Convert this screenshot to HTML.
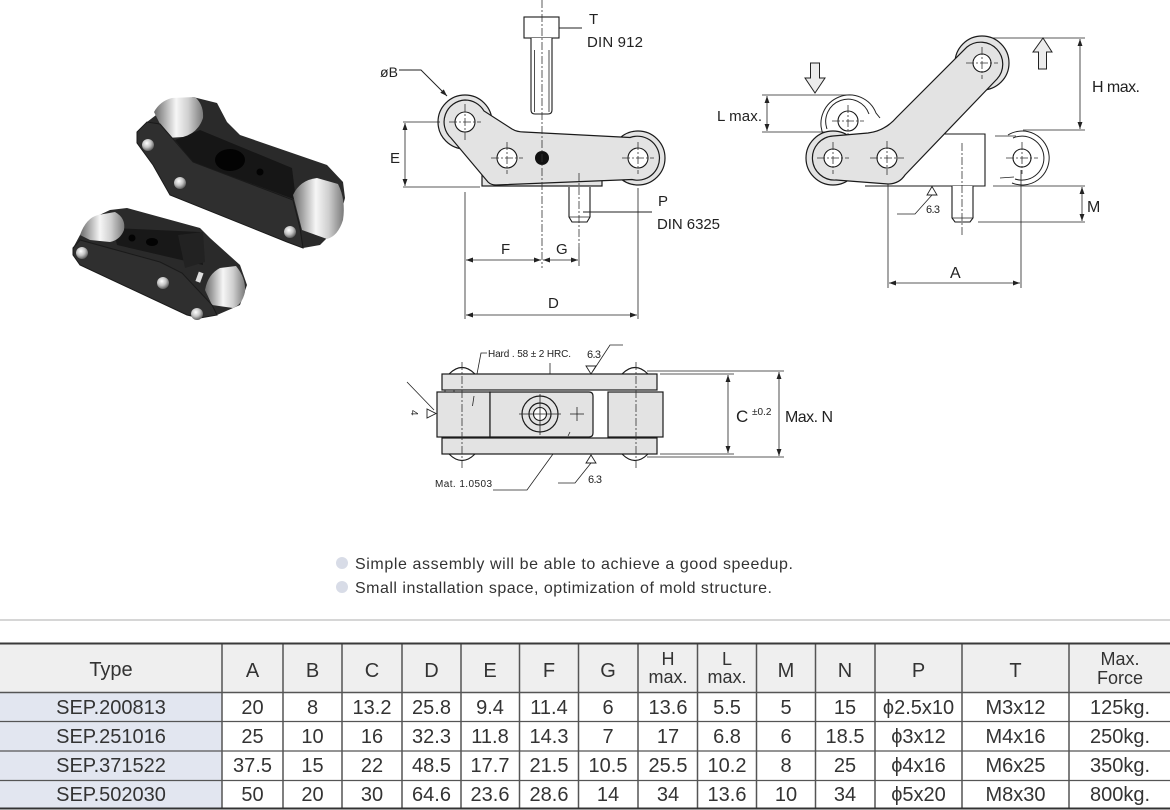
<!DOCTYPE html>
<html><head><meta charset="utf-8"><style>
html,body{margin:0;padding:0;background:#fff;}
svg{display:block;}
text{font-family:"Liberation Sans","DejaVu Sans",sans-serif;fill:#222;}
.ln{stroke:#222;stroke-width:1;fill:none;}
.th{stroke:#222;stroke-width:0.8;fill:none;}
.cl{stroke:#333;stroke-width:0.8;fill:none;stroke-dasharray:8 2 2 2;}
.pl{fill:#e3e3e3;stroke:#1a1a1a;stroke-width:1.2;}
.wh{fill:#fff;stroke:#1a1a1a;stroke-width:1.1;}
.tb{font-size:20px;fill:#333;text-anchor:middle;}
.th2{font-size:18px;fill:#333;text-anchor:middle;}
</style></head><body>
<svg width="1170" height="810" viewBox="0 0 1170 810" xmlns="http://www.w3.org/2000/svg">
<defs>
<marker id="ar" viewBox="0 0 10 10" refX="10" refY="5" markerWidth="8" markerHeight="7" orient="auto-start-reverse" markerUnits="userSpaceOnUse"><path d="M0,1.5 L10,5 L0,8.5 z" fill="#222"/></marker>
<linearGradient id="sil" x1="0" y1="0" x2="1" y2="0"><stop offset="0" stop-color="#6a6a6a"/><stop offset=".25" stop-color="#b8b8b8"/><stop offset=".45" stop-color="#f6f6f6"/><stop offset=".7" stop-color="#cfcfcf"/><stop offset="1" stop-color="#7a7a7a"/></linearGradient>
<radialGradient id="riv" cx=".4" cy=".35" r=".7"><stop offset="0" stop-color="#fff"/><stop offset=".5" stop-color="#c4c4c4"/><stop offset="1" stop-color="#505050"/></radialGradient>
</defs>

<!-- ================= PHOTO ================= -->
<g>
<!-- upper link -->
<path d="M193,97 L217,103 L227,122 L240,135 L327,165 L343,182 L345,198 L337,228 L320,245 L303,248 L287,242 L170,195 L153,165 L137,143 L137,132 L147,122 L160,112 Z" fill="#2a2a2a"/>
<path d="M200,130 L292,168 L296,200 L193,162 L175,140 Z" fill="#161616"/>
<ellipse cx="230" cy="160" rx="15" ry="11" fill="#030303"/>
<circle cx="260" cy="172" r="3.5" fill="#030303"/>
<path d="M154,112 Q160,101 172,98 L195,97 Q204,105 203,118 Q198,133 183,137 L167,138 Z" fill="url(#sil)"/>
<path d="M293,195 Q300,180 317,178 L338,184 Q346,200 343,220 Q338,236 327,239 L302,230 Z" fill="url(#sil)"/>
<path d="M137,132 L147,122 L160,124 L193,162 L293,200 L300,228 L303,248 L287,242 L170,195 L153,165 L137,143 Z" fill="#2f2f2f" stroke="#1a1a1a" stroke-width="1"/>
<circle cx="148" cy="145" r="6" fill="url(#riv)"/>
<circle cx="180" cy="183" r="6" fill="url(#riv)"/>
<circle cx="290" cy="232" r="6" fill="url(#riv)"/>
<!-- lower link -->
<path d="M73,248 L80,235 L93,218 L110,210 L127,208 L200,228 L210,238 L240,265 L247,285 L240,305 L217,315 L200,318 L187,315 L80,265 L73,255 Z" fill="#2a2a2a"/>
<path d="M113,228 L200,232 L203,265 L117,245 Z" fill="#181818"/>
<circle cx="132" cy="238" r="3.5" fill="#030303"/>
<ellipse cx="152" cy="242" rx="6" ry="4" fill="#030303"/>
<path d="M178,235 L203,232 L205,262 L185,268 Z" fill="#222"/>
<rect x="197" y="272" width="5" height="10" fill="#ddd" transform="rotate(20 199 277)"/>
<path d="M80,235 Q86,218 98,215 L115,212 Q126,218 124,230 Q120,240 110,242 L90,240 Z" fill="url(#sil)"/>
<path d="M205,290 Q208,274 220,268 L236,266 Q246,278 245,292 Q242,305 233,308 L212,305 Z" fill="url(#sil)"/>
<path d="M73,248 L80,240 L160,262 L182,273 L212,305 L217,315 L200,318 L187,315 L80,265 L73,255 Z" fill="#2f2f2f" stroke="#1a1a1a" stroke-width="1"/>
<circle cx="82" cy="253" r="6" fill="url(#riv)"/>
<circle cx="163" cy="283" r="6" fill="url(#riv)"/>
<circle cx="197" cy="314" r="6" fill="url(#riv)"/>
</g>

<!-- ================= MIDDLE DRAWING ================= -->
<rect x="524" y="17" width="35" height="21" class="wh"/>
<path d="M531,38 V110 Q531,114 535,114 H548 Q552,114 552,110 V38" class="wh"/>
<line x1="534.5" y1="50" x2="534.5" y2="112" class="th"/>
<line x1="549" y1="50" x2="549" y2="112" class="th"/>
<line x1="559" y1="28" x2="582" y2="28" class="ln"/>
<text x="589" y="24" font-size="15">T</text>
<text x="587" y="47" font-size="15" textLength="56">DIN 912</text>
<text x="380" y="77" font-size="14" textLength="18">øB</text>
<polyline points="399,70 421,70 447,96" class="ln" marker-end="url(#ar)"/>
<circle cx="465" cy="122" r="27" class="pl"/>
<circle cx="638" cy="158" r="27" class="pl"/>
<rect x="482" y="172" width="120" height="14" class="pl"/>
<path d="M465,100 A22,22 0 0 1 484,111 L512,129 Q517,132 524,132 L630,137.5 A22,22 0 1 1 632,179.5 L496,185 Q491,185 488,182 L451,138 A22,22 0 0 1 465,100 Z" class="pl"/>
<circle cx="465" cy="122" r="10" class="wh"/>
<circle cx="507" cy="158" r="10" class="wh"/>
<circle cx="638" cy="158" r="10" class="wh"/>
<circle cx="542" cy="158" r="7" fill="#111"/>
<line x1="449" y1="122" x2="481" y2="122" class="cl"/>
<line x1="465" y1="104" x2="465" y2="140" class="cl"/>
<line x1="491" y1="158" x2="523" y2="158" class="cl"/>
<line x1="507" y1="142" x2="507" y2="174" class="cl"/>
<line x1="622" y1="158" x2="654" y2="158" class="cl"/>
<line x1="638" y1="142" x2="638" y2="174" class="cl"/>
<line x1="542" y1="0" x2="542" y2="268" class="cl"/>
<path d="M569,187 V217 L572,222 H587 L590,217 V187" class="wh"/>
<line x1="569" y1="217" x2="590" y2="217" class="th"/>
<line x1="579" y1="173" x2="579" y2="247" class="cl"/>
<line x1="579" y1="247" x2="579" y2="266" class="th"/>
<line x1="583" y1="212" x2="652" y2="212" class="ln"/>
<text x="658" y="206" font-size="15">P</text>
<text x="657" y="229" font-size="15" textLength="63">DIN 6325</text>
<line x1="403" y1="122" x2="440" y2="122" class="th"/>
<line x1="403" y1="187" x2="480" y2="187" class="th"/>
<line x1="405" y1="123" x2="405" y2="186" class="th" marker-start="url(#ar)" marker-end="url(#ar)"/>
<text x="390" y="163" font-size="15">E</text>
<line x1="465" y1="192" x2="465" y2="319" class="th"/>
<line x1="638" y1="188" x2="638" y2="319" class="th"/>
<line x1="466" y1="260" x2="541" y2="260" class="th" marker-start="url(#ar)" marker-end="url(#ar)"/>
<line x1="543" y1="260" x2="578" y2="260" class="th" marker-start="url(#ar)" marker-end="url(#ar)"/>
<text x="501" y="254" font-size="15">F</text>
<text x="556" y="254" font-size="15">G</text>
<line x1="466" y1="315" x2="637" y2="315" class="th" marker-start="url(#ar)" marker-end="url(#ar)"/>
<text x="548" y="308" font-size="15">D</text>

<!-- ================= RIGHT DRAWING ================= -->
<path d="M1043,38 L1052,52 L1046.5,52 L1046.5,69 L1038.5,69 L1038.5,52 L1033,52 Z" fill="#ececec" stroke="#222" stroke-width="1"/>
<path d="M815,93 L805,78 L810.5,78 L810.5,63 L819.5,63 L819.5,78 L825,78 Z" fill="#ececec" stroke="#222" stroke-width="1"/>
<line x1="990" y1="38" x2="1085" y2="38" class="th"/>
<line x1="1023" y1="130" x2="1085" y2="130" class="th"/>
<line x1="1080" y1="39" x2="1080" y2="129" class="th" marker-start="url(#ar)" marker-end="url(#ar)"/>
<text x="1092" y="92" font-size="16" textLength="48">H max.</text>
<line x1="762" y1="95" x2="852" y2="95" class="th"/>
<line x1="762" y1="132" x2="826" y2="132" class="th"/>
<line x1="767" y1="96" x2="767" y2="131" class="th" marker-start="url(#ar)" marker-end="url(#ar)"/>
<text x="717" y="121" font-size="15" textLength="45">L max.</text>
<path d="M823,134 A28,28 0 0 1 876,113 L880,118" class="ln"/>
<path d="M827,129 A22,22 0 0 1 869,114" class="ln"/>
<circle cx="848" cy="121" r="10" class="wh"/>
<line x1="832" y1="121" x2="864" y2="121" class="cl"/>
<line x1="848" y1="105" x2="848" y2="137" class="cl"/>
<path d="M1008,135 A27,27 0 1 1 1012,183" class="ln"/>
<path d="M1013,138 A22,22 0 1 1 1015,179" class="ln"/>
<line x1="995" y1="136" x2="1016" y2="136" class="th"/>
<line x1="1000" y1="178" x2="1014" y2="177" class="th"/>
<circle cx="1022" cy="158" r="9" class="wh"/>
<line x1="1006" y1="158" x2="1038" y2="158" class="cl"/>
<line x1="1022" y1="142" x2="1022" y2="174" class="cl"/>
<path d="M895,134 H985 V186 H865" fill="#fff" stroke="#1a1a1a" stroke-width="1.1"/>
<circle cx="833" cy="158" r="27" class="pl"/>
<circle cx="982" cy="63" r="27" class="pl"/>
<path d="M833,136 L868,133 Q885,131 897,117 L967,47 A22,22 0 0 1 997,79 L905,175 Q899,184 888,184 L836,180 A22,22 0 1 1 833,136 Z" class="pl"/>
<circle cx="833" cy="158" r="9" class="wh"/>
<circle cx="887" cy="158" r="10" class="wh"/>
<circle cx="982" cy="63" r="9" class="wh"/>
<line x1="817" y1="158" x2="849" y2="158" class="cl"/>
<line x1="833" y1="142" x2="833" y2="174" class="cl"/>
<line x1="870" y1="158" x2="904" y2="158" class="cl"/>
<line x1="887" y1="141" x2="887" y2="175" class="cl"/>
<line x1="966" y1="63" x2="998" y2="63" class="cl"/>
<line x1="982" y1="47" x2="982" y2="79" class="cl"/>
<path d="M952,186 V218 L955,222 H970 L973,218 V186" class="wh"/>
<line x1="952" y1="218" x2="973" y2="218" class="th"/>
<line x1="962" y1="143" x2="962" y2="235" class="cl"/>
<line x1="993" y1="186" x2="1085" y2="186" class="th"/>
<line x1="978" y1="222" x2="1085" y2="222" class="th"/>
<line x1="1082" y1="187" x2="1082" y2="221" class="th" marker-start="url(#ar)" marker-end="url(#ar)"/>
<text x="1087" y="212" font-size="16">M</text>
<path d="M927,195 L937,195 L932,186.5 Z" fill="#fff" stroke="#222" stroke-width="0.9"/>
<polyline points="932,195 915,214 897,214" class="th"/>
<text x="926" y="213" font-size="11" textLength="14">6.3</text>
<line x1="888" y1="184" x2="888" y2="288" class="th"/>
<line x1="1021" y1="170" x2="1021" y2="288" class="th"/>
<line x1="889" y1="283" x2="1020" y2="283" class="th" marker-start="url(#ar)" marker-end="url(#ar)"/>
<text x="950" y="278" font-size="16">A</text>

<!-- ================= BOTTOM DRAWING ================= -->
<path d="M449,374 Q462,361 475,374" class="wh"/>
<path d="M622,374 Q635,361 648,374" class="wh"/>
<path d="M449,454 Q462,467 475,454" class="wh"/>
<path d="M622,454 Q635,467 648,454" class="wh"/>
<rect x="442" y="374" width="215" height="16" class="pl"/>
<rect x="442" y="438" width="215" height="16" class="pl"/>
<rect x="437" y="392" width="53" height="45" class="pl"/>
<path d="M490,392 H589 Q593,392 593,396 V433 Q593,437 589,437 H490 Z" class="pl"/>
<rect x="608" y="392" width="55" height="45" class="pl"/>
<line x1="445" y1="390" x2="445" y2="392" class="th"/>
<line x1="454" y1="390" x2="454" y2="392" class="th"/>
<circle cx="540" cy="414" r="18" class="pl"/>
<circle cx="540" cy="414" r="11" class="pl"/>
<circle cx="540" cy="414" r="6.5" class="wh"/>
<line x1="519" y1="414" x2="561" y2="414" class="th"/>
<line x1="540" y1="394" x2="540" y2="435" class="th"/>
<line x1="570" y1="414" x2="584" y2="414" class="th"/>
<line x1="577" y1="407" x2="577" y2="421" class="th"/>
<line x1="462" y1="362" x2="462" y2="468" class="cl"/>
<line x1="636" y1="362" x2="636" y2="468" class="cl"/>
<line x1="474" y1="396" x2="472.5" y2="406" class="th"/>
<line x1="570" y1="432" x2="568" y2="436" class="th"/>
<polyline points="487,353 481,353 477,374" class="th"/>
<line x1="550" y1="363" x2="550" y2="374" class="th"/>
<text x="488" y="357" font-size="10" textLength="83">Hard . 58 ± 2 HRC.</text>
<text x="587" y="358" font-size="11" textLength="14">6.3</text>
<path d="M586,366 L596,366 L591,374 Z" fill="#fff" stroke="#222" stroke-width="0.9"/>
<polyline points="593,371 610,345 623,345" class="th"/>
<path d="M586,463 L596,463 L591,455 Z" fill="#fff" stroke="#222" stroke-width="0.9"/>
<polyline points="591,463 575,483 558,483" class="th"/>
<text x="588" y="483" font-size="11" textLength="14">6.3</text>
<text x="435" y="487" font-size="10" textLength="57">Mat. 1.0503</text>
<polyline points="493,490 527,490 553,454" class="th"/>
<line x1="407" y1="382" x2="434" y2="410" class="th"/>
<path d="M427,409 L427,418 L436,413.5 Z" fill="#fff" stroke="#222" stroke-width="0.9"/>
<text x="0" y="0" font-size="10" transform="translate(411,410) rotate(90)">4</text>
<line x1="660" y1="374" x2="734" y2="374" class="th" stroke="#555"/>
<line x1="660" y1="454" x2="734" y2="454" class="th" stroke="#555"/>
<line x1="647" y1="371" x2="784" y2="371" class="th"/>
<line x1="647" y1="457" x2="784" y2="457" class="th"/>
<line x1="728" y1="375" x2="728" y2="453" class="th" marker-start="url(#ar)" marker-end="url(#ar)"/>
<line x1="779" y1="372" x2="779" y2="456" class="th" marker-start="url(#ar)" marker-end="url(#ar)"/>
<text x="736" y="422" font-size="17">C</text>
<text x="752" y="415" font-size="10">±0.2</text>
<text x="785" y="422" font-size="16" textLength="48">Max. N</text>

<!-- ================= BULLETS ================= -->
<circle cx="342" cy="563" r="6" fill="#d8dce7"/>
<circle cx="342" cy="587" r="6" fill="#d8dce7"/>
<text x="355" y="569" font-size="16" style="fill:#333" textLength="438">Simple assembly will be able to achieve a good speedup.</text>
<text x="355" y="593" font-size="16" style="fill:#333" textLength="417">Small installation space, optimization of mold structure.</text>

<!-- ================= TABLE ================= -->
<line x1="0" y1="620" x2="1170" y2="620" stroke="#c8c8c8" stroke-width="1.5"/>
<rect x="0" y="643" width="1170" height="49" fill="#efefef"/>
<rect x="0" y="692" width="222" height="116" fill="#e2e6f0"/>
<g stroke="#555" stroke-width="1.5">
<line x1="222" y1="643" x2="222" y2="808"/>
<line x1="283" y1="643" x2="283" y2="808"/>
<line x1="342" y1="643" x2="342" y2="808"/>
<line x1="402" y1="643" x2="402" y2="808"/>
<line x1="461" y1="643" x2="461" y2="808"/>
<line x1="519.5" y1="643" x2="519.5" y2="808"/>
<line x1="578.5" y1="643" x2="578.5" y2="808"/>
<line x1="638" y1="643" x2="638" y2="808"/>
<line x1="697.5" y1="643" x2="697.5" y2="808"/>
<line x1="756.5" y1="643" x2="756.5" y2="808"/>
<line x1="815.5" y1="643" x2="815.5" y2="808"/>
<line x1="875" y1="643" x2="875" y2="808"/>
<line x1="962" y1="643" x2="962" y2="808"/>
<line x1="1069" y1="643" x2="1069" y2="808"/>
<line x1="0" y1="692.5" x2="1170" y2="692.5"/>
<line x1="0" y1="721.5" x2="1170" y2="721.5" stroke-width="1.2"/>
<line x1="0" y1="751" x2="1170" y2="751" stroke-width="1.2"/>
<line x1="0" y1="780.5" x2="1170" y2="780.5" stroke-width="1.2"/>
</g>
<line x1="0" y1="643.5" x2="1170" y2="643.5" stroke="#3a3a3a" stroke-width="2"/>
<line x1="0" y1="808.5" x2="1170" y2="808.5" stroke="#333" stroke-width="2"/>

<text class="tb" x="111" y="676">Type</text>
<text class="tb" x="252.5" y="677">A</text>
<text class="tb" x="312.5" y="677">B</text>
<text class="tb" x="372" y="677">C</text>
<text class="tb" x="431.5" y="677">D</text>
<text class="tb" x="490" y="677">E</text>
<text class="tb" x="549" y="677">F</text>
<text class="tb" x="608" y="677">G</text>
<text class="th2" x="668" y="665">H</text>
<text class="th2" x="668" y="683">max.</text>
<text class="th2" x="727" y="665">L</text>
<text class="th2" x="727" y="683">max.</text>
<text class="tb" x="786" y="677">M</text>
<text class="tb" x="845" y="677">N</text>
<text class="tb" x="918.5" y="677">P</text>
<text class="tb" x="1015.5" y="677">T</text>
<text class="th2" x="1120" y="665">Max.</text>
<text class="th2" x="1120" y="684">Force</text>

<text class="tb" x="111" y="714">SEP.200813</text>
<text class="tb" x="252.5" y="714">20</text>
<text class="tb" x="312.5" y="714">8</text>
<text class="tb" x="372" y="714">13.2</text>
<text class="tb" x="431.5" y="714">25.8</text>
<text class="tb" x="490" y="714">9.4</text>
<text class="tb" x="549" y="714">11.4</text>
<text class="tb" x="608" y="714">6</text>
<text class="tb" x="668" y="714">13.6</text>
<text class="tb" x="727" y="714">5.5</text>
<text class="tb" x="786" y="714">5</text>
<text class="tb" x="845" y="714">15</text>
<text class="tb" x="918.5" y="714">ϕ2.5x10</text>
<text class="tb" x="1015.5" y="714">M3x12</text>
<text class="tb" x="1120" y="714">125kg.</text>

<text class="tb" x="111" y="743">SEP.251016</text>
<text class="tb" x="252.5" y="743">25</text>
<text class="tb" x="312.5" y="743">10</text>
<text class="tb" x="372" y="743">16</text>
<text class="tb" x="431.5" y="743">32.3</text>
<text class="tb" x="490" y="743">11.8</text>
<text class="tb" x="549" y="743">14.3</text>
<text class="tb" x="608" y="743">7</text>
<text class="tb" x="668" y="743">17</text>
<text class="tb" x="727" y="743">6.8</text>
<text class="tb" x="786" y="743">6</text>
<text class="tb" x="845" y="743">18.5</text>
<text class="tb" x="918.5" y="743">ϕ3x12</text>
<text class="tb" x="1015.5" y="743">M4x16</text>
<text class="tb" x="1120" y="743">250kg.</text>

<text class="tb" x="111" y="772">SEP.371522</text>
<text class="tb" x="252.5" y="772">37.5</text>
<text class="tb" x="312.5" y="772">15</text>
<text class="tb" x="372" y="772">22</text>
<text class="tb" x="431.5" y="772">48.5</text>
<text class="tb" x="490" y="772">17.7</text>
<text class="tb" x="549" y="772">21.5</text>
<text class="tb" x="608" y="772">10.5</text>
<text class="tb" x="668" y="772">25.5</text>
<text class="tb" x="727" y="772">10.2</text>
<text class="tb" x="786" y="772">8</text>
<text class="tb" x="845" y="772">25</text>
<text class="tb" x="918.5" y="772">ϕ4x16</text>
<text class="tb" x="1015.5" y="772">M6x25</text>
<text class="tb" x="1120" y="772">350kg.</text>

<text class="tb" x="111" y="801">SEP.502030</text>
<text class="tb" x="252.5" y="801">50</text>
<text class="tb" x="312.5" y="801">20</text>
<text class="tb" x="372" y="801">30</text>
<text class="tb" x="431.5" y="801">64.6</text>
<text class="tb" x="490" y="801">23.6</text>
<text class="tb" x="549" y="801">28.6</text>
<text class="tb" x="608" y="801">14</text>
<text class="tb" x="668" y="801">34</text>
<text class="tb" x="727" y="801">13.6</text>
<text class="tb" x="786" y="801">10</text>
<text class="tb" x="845" y="801">34</text>
<text class="tb" x="918.5" y="801">ϕ5x20</text>
<text class="tb" x="1015.5" y="801">M8x30</text>
<text class="tb" x="1120" y="801">800kg.</text>
</svg>
</body></html>
